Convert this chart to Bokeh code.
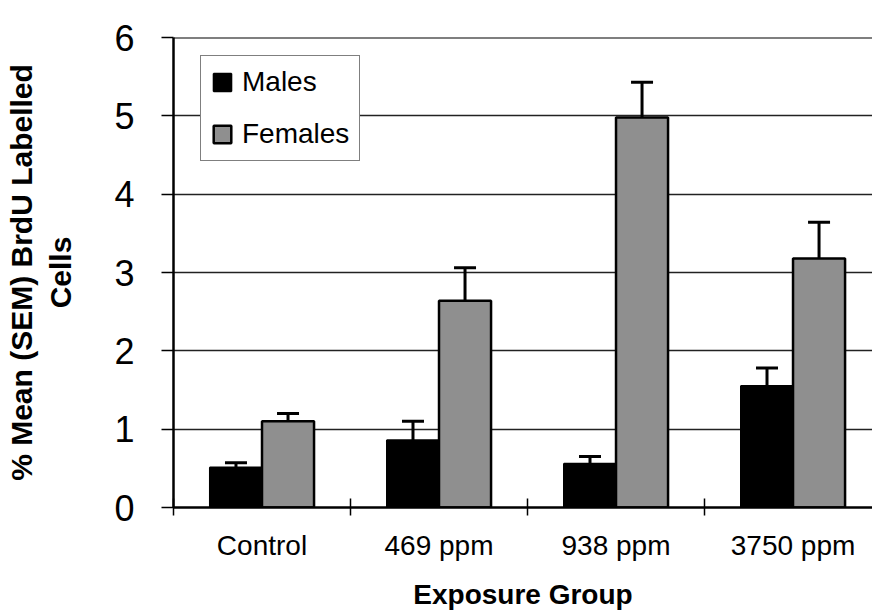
import numpy as np
from bokeh.plotting import figure
from bokeh.models import (ColumnDataSource, Range1d, FixedTicker, CustomJSTickFormatter,
                          Whisker, TeeHead, Span, Legend)
from bokeh.embed import file_html
from bokeh.resources import INLINE

# ---- data ----
groups = ["Control", "469 ppm", "938 ppm", "3750 ppm"]
males = [0.51, 0.86, 0.56, 1.55]
males_sem = [0.06, 0.24, 0.09, 0.23]
females = [1.10, 2.64, 4.98, 3.18]
females_sem = [0.10, 0.42, 0.45, 0.46]
y_ticks = [0, 1, 2, 3, 4, 5, 6]

centers = np.arange(len(groups)) + 0.5
bw = 0.294
off = 0.147

src_m = ColumnDataSource(dict(x=centers - off, top=males,
                              upper=np.array(males) + np.array(males_sem)))
src_f = ColumnDataSource(dict(x=centers + off, top=females,
                              upper=np.array(females) + np.array(females_sem)))

p = figure(width=872, height=614, output_backend="svg", toolbar_location=None,
           x_range=Range1d(0, 3.949), y_range=Range1d(0, 6),
           min_border_left=173, min_border_right=0, min_border_top=37, min_border_bottom=107)
p.outline_line_color = None
p.xgrid.grid_line_color = None
p.ygrid.grid_line_color = "#222222"
p.ygrid.grid_line_width = 1.3

rm = p.vbar(x="x", top="top", width=bw, source=src_m, fill_color="black",
            line_color="black", line_width=2)
rf = p.vbar(x="x", top="top", width=bw, source=src_f, fill_color="#8f8f8f",
            line_color="black", line_width=2.5)

for s in (src_m, src_f):
    w = Whisker(source=s, base="x", lower="top", upper="upper", line_width=3,
                line_color="black",
                upper_head=TeeHead(size=22, line_width=3, line_color="black"),
                lower_head=None)
    p.add_layout(w)

p.add_layout(Span(location=6, dimension="width", line_color="black", line_width=2))

# y axis
ya = p.yaxis[0]
ya.ticker = FixedTicker(ticks=y_ticks)
ya.axis_line_width = 2.5
ya.axis_line_color = "black"
ya.major_tick_out = 12
ya.major_tick_in = 0
ya.major_tick_line_width = 1.5
ya.minor_tick_line_color = None
ya.major_label_text_font = "Liberation Sans"
ya.major_label_text_font_size = "36px"
ya.major_label_text_color = "black"
ya.major_label_standoff = 27
ya.axis_label = "% Mean (SEM) BrdU Labelled\nCells"
ya.axis_label_text_font = "Liberation Sans"
ya.axis_label_text_font_style = "bold"
ya.axis_label_text_font_size = "30px"
ya.axis_label_text_color = "black"
ya.axis_label_standoff = 34

# x axis
xa = p.xaxis[0]
xa.ticker = FixedTicker(ticks=list(centers), minor_ticks=list(range(len(groups) + 1)))
xa.formatter = CustomJSTickFormatter(args=dict(labels=groups),
                                     code="return labels[Math.floor(tick)];")
xa.axis_line_width = 2.5
xa.axis_line_color = "black"
xa.major_tick_line_color = None
xa.major_tick_out = 8
xa.major_tick_in = 0
xa.minor_tick_line_color = "black"
xa.minor_tick_line_width = 1.5
xa.minor_tick_in = 9
xa.minor_tick_out = 8
xa.major_label_text_font = "Liberation Sans"
xa.major_label_text_font_size = "28px"
xa.major_label_text_color = "black"
xa.major_label_standoff = 14
xa.axis_label = "Exposure Group"
xa.axis_label_text_font = "Liberation Sans"
xa.axis_label_text_font_style = "bold"
xa.axis_label_text_font_size = "28px"
xa.axis_label_text_color = "black"
xa.axis_label_standoff = 15

legend = Legend(items=[("Males", [rm]), ("Females", [rf])], location=(27, 346))
legend.label_text_font = "Liberation Sans"
legend.label_text_font_size = "28px"
legend.label_text_color = "black"
legend.glyph_width = 22
legend.glyph_height = 22
legend.label_standoff = 9
legend.padding = 10
legend.spacing = 20
legend.margin = 0
legend.border_line_color = "black"
legend.border_line_width = 1.5
legend.background_fill_color = "white"
legend.background_fill_alpha = 1
p.add_layout(legend)

open("out.html", "w").write(file_html(p, INLINE))
